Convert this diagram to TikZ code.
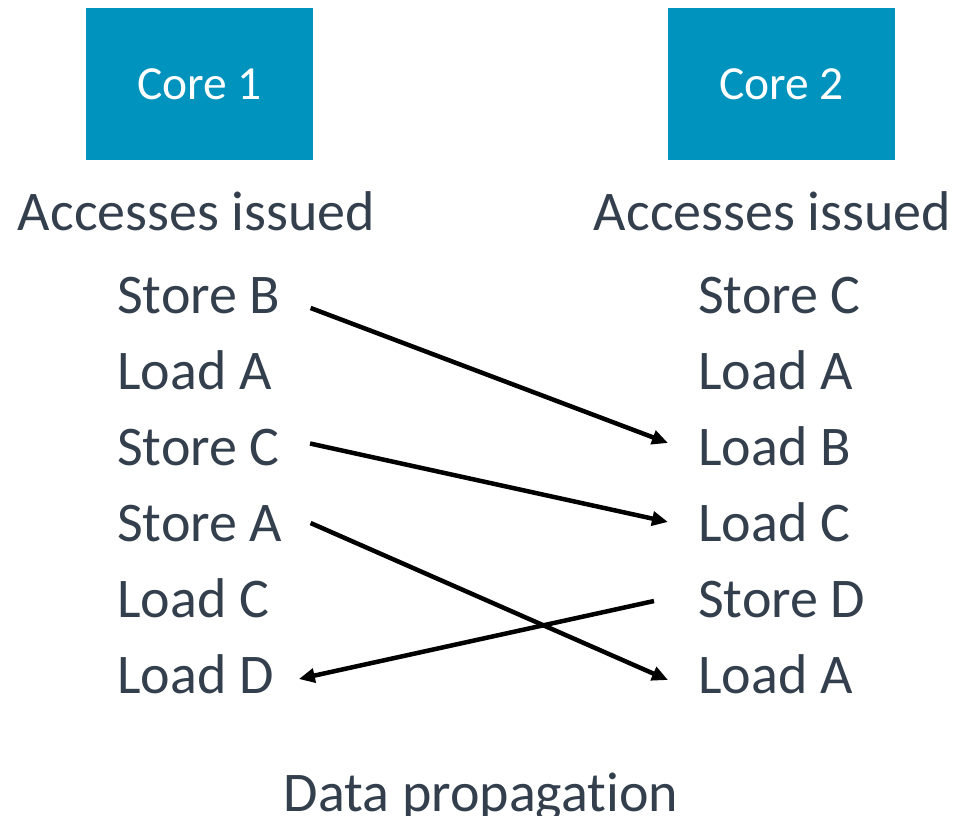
\documentclass[tikz,border=0pt]{standalone}
\usepackage{fontspec}
\setmainfont{Carlito}[RawFeature={-liga;-dlig}]
\usetikzlibrary{arrows.meta}
\definecolor{coreblue}{RGB}{0,147,190}
\definecolor{inktext}{RGB}{51,63,76}
\tikzset{
  corebox/.style={fill=coreblue, draw=none, minimum width=227pt, minimum height=152pt,
    inner sep=0pt, text=white, font=\fontsize{47.5}{56}\selectfont},
  heading/.style={inner sep=0pt, text=inktext, anchor=base, font=\fontsize{56}{66}\selectfont},
  access/.style={inner sep=0pt, text=inktext, font=\fontsize{56}{66}\selectfont},
  flow/.style={line width=4.5pt, -{Triangle[length=16pt,width=14pt]}},
}
\begin{document}
\begin{tikzpicture}[x=1pt, y=-1pt]
  \useasboundingbox (0,0) rectangle (956,815);

  % the two cores
  \node[corebox] (core1) at (199.5,84) {Core 1};
  \node[corebox] (core2) at (781.5,84) {Core 2};

  % column headings
  \node[heading] (h1) at (196.5,230) {Accesses issued};
  \node[heading] (h2) at (772.5,230) {Accesses issued};

  % accesses issued by core 1
  \node[access, anchor=base west] (l1) at (117,313)   {Store B};
  \node[access, anchor=base west] (l2) at (117,389.5) {Load A};
  \node[access, anchor=base west] (l3) at (117,465.5) {Store C};
  \node[access, anchor=base west] (l4) at (117,541.5) {Store A};
  \node[access, anchor=base west] (l5) at (117,617.5) {Load C};
  \node[access, anchor=base west] (l6) at (117,693.5) {Load D};

  % accesses issued by core 2
  \node[access, anchor=base west] (r1) at (698,313)   {Store C};
  \node[access, anchor=base west] (r2) at (698,389.5) {Load A};
  \node[access, anchor=base west] (r3) at (698,465.5) {Load B};
  \node[access, anchor=base west] (r4) at (698,541.5) {Load C};
  \node[access, anchor=base west] (r5) at (698,617.5) {Store D};
  \node[access, anchor=base west] (r6) at (698,693.5) {Load A};

  % data propagation between the cores
  \draw[flow] ([shift={(30,-5)}]l1.base east) -- ([shift={(-30,-22.5)}]r3.base west);
  \draw[flow] ([shift={(30,-22)}]l3.base east) -- ([shift={(-30,-19.5)}]r4.base west);
  \draw[flow] ([shift={(28,-18.5)}]l4.base east) -- ([shift={(-30,-13.5)}]r6.base west);
  \draw[flow] ([shift={(-44,-16.5)}]r5.base west) -- ([shift={(25,-14.5)}]l6.base east);

  \node[heading] (dp) at (481,811) {Data propagation};
\end{tikzpicture}
\end{document}
